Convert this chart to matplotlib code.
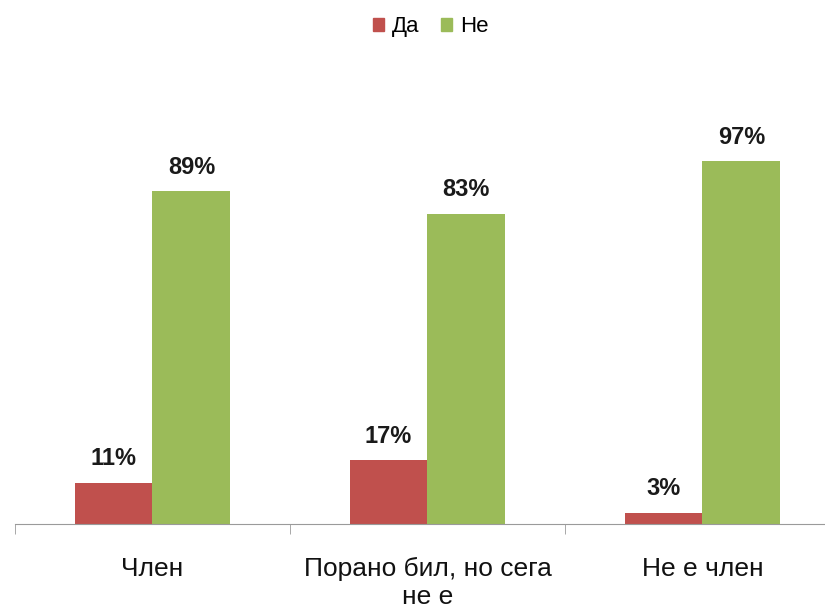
import numpy as np
import matplotlib.pyplot as plt
from matplotlib.patches import Patch

categories = ["Член", "Порано бил, но сега\nне е", "Не е член"]
da_values = [11, 17, 3]
ne_values = [89, 83, 97]
series_names = ["Да", "Не"]

plt.rcParams["font.family"] = ["Liberation Sans", "DejaVu Sans"]

red = "#C0504D"
green = "#9BBB59"

fig = plt.figure(figsize=(8.25, 6.09), dpi=100)
# axes runs slightly past the right edge, like the original
ax = fig.add_axes([15 / 825, 85 / 609, 825 / 825, 374 / 609])

x = np.arange(len(categories))
w = 0.283
b1 = ax.bar(x - w / 2, da_values, w, color=red)
b2 = ax.bar(x + w / 2, ne_values, w, color=green)

for bars, vals in ((b1, da_values), (b2, ne_values)):
    for rect, v in zip(bars, vals):
        ax.annotate("{}%".format(v), (rect.get_x() + rect.get_width() / 2, rect.get_height()),
                    xytext=(0, 9), textcoords="offset points", ha="center", va="bottom",
                    fontsize=17, fontweight="bold", color="#1a1a1a")

ax.set_xlim(-0.5, 2.5)
ax.set_ylim(0, 100)
ax.set_yticks([])
for s in ("top", "right", "left"):
    ax.spines[s].set_visible(False)
ax.spines["bottom"].set_color("#9a9a9a")

ax.set_xticks(x)
ax.set_xticklabels(categories, fontsize=19, color="#111111", linespacing=1.2)
ax.tick_params(axis="x", which="major", length=0, pad=24)
ax.set_xticks([-0.5, 0.5, 1.5, 2.5], minor=True)
ax.tick_params(axis="x", which="minor", length=7, color="#9a9a9a")

handles = [Patch(color=red), Patch(color=green)]
fig.legend(handles, series_names, loc="upper center", bbox_to_anchor=(0.522, 1.006), ncol=2,
           frameon=False, fontsize=16, handlelength=0.5, handleheight=0.5,
           handletextpad=0.35, columnspacing=1.0)

fig.savefig("out.png", dpi=100)
